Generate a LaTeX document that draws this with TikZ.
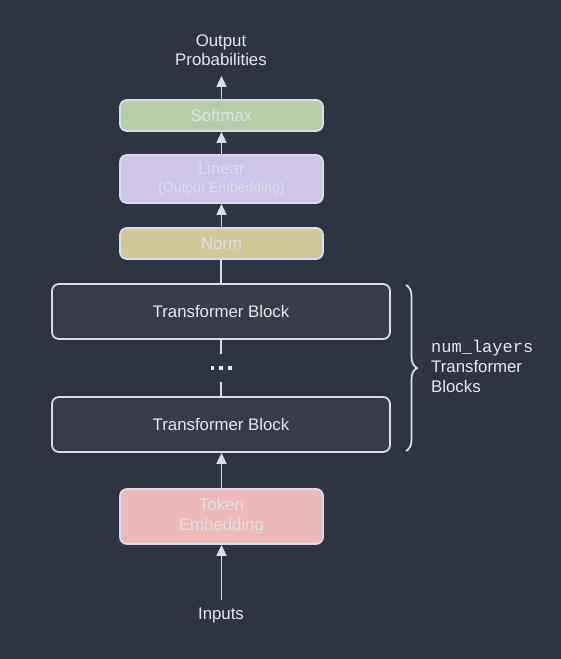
\documentclass[tikz,border=0pt]{standalone}
\usepackage{fontspec}
\setmainfont{Liberation Sans}
\newfontfamily\monofont{Liberation Mono}
\usetikzlibrary{arrows.meta,decorations.pathreplacing}
\definecolor{bg}{HTML}{2E3440}
\definecolor{edge}{HTML}{D8DEE9}
\definecolor{txt}{HTML}{E5E9F0}
\definecolor{boxtxt}{HTML}{DCE1EA}
\definecolor{cgreen}{HTML}{B4CEA6}
\definecolor{cpurple}{HTML}{CDC4E8}
\definecolor{cyellow}{HTML}{D4C697}
\definecolor{cred}{HTML}{EBB9B9}
\definecolor{cblock}{HTML}{373C48}
\begin{document}
\begin{tikzpicture}[x=1pt,y=-1pt,
  base/.style={draw=edge, line width=1.8pt, rounded corners=7pt, align=center,
    font=\fontsize{16.8}{20}\selectfont, inner sep=0pt},
  smallbox/.style={base, minimum width=203pt, text=boxtxt},
  blockbox/.style={base, minimum width=338pt, minimum height=55pt, fill=cblock, text=txt},
  plain/.style={text=txt, font=\fontsize{16.8}{19.5}\selectfont, align=center},
  conn/.style={draw=edge, line width=1.8pt},
  arr/.style={conn, -{Triangle[width=10pt,length=11pt]}},
  dotsq/.style={fill=txt}
]
\useasboundingbox (0,0) rectangle (560,659);
\fill[bg] (-3,-3) rectangle (563,662);

\node[plain, inner xsep=4pt, inner ysep=10pt] (out) at (221,50) {Output\\Probabilities};
\node[smallbox, minimum height=31pt, fill=cgreen] (softmax) at (221.5,115.5) {Softmax};
\node[smallbox, minimum height=48pt, fill=cpurple] (linear) at (221.5,179)
  {Linear\\[-2pt]{\fontsize{14}{16}\selectfont (Output Embedding)}};
\node[smallbox, minimum height=31pt, fill=cyellow] (norm) at (221.5,243.5) {Norm};
\node[blockbox] (tb1) at (221,311.5) {Transformer Block};
\node[minimum height=28pt, minimum width=30pt, inner sep=0pt] (dots) at (221,368) {};
\fill[dotsq] (dots.center) ++(-10.5,-1.6) rectangle ++(3.2,3.2);
\fill[dotsq] (dots.center) ++(-1.6,-1.6) rectangle ++(3.2,3.2);
\fill[dotsq] (dots.center) ++(7.3,-1.6) rectangle ++(3.2,3.2);
\node[blockbox] (tb2) at (221,424.5) {Transformer Block};
\node[smallbox, minimum height=55pt, fill=cred] (token) at (221.5,516.5) {Token\\Embedding};
\node[plain, inner sep=7pt] (in) at (221,615) {Inputs};

\draw[arr] (in.north -| token.south) -- (token.south);
\draw[arr] (token.north) -- (tb2.south -| token.north);
\draw[conn] (tb2.north) -- (dots.south);
\draw[conn] (dots.north) -- (tb1.south);
\draw[conn] (tb1.north) -- (norm.south -| tb1.north);
\draw[arr] (norm.north) -- (linear.south);
\draw[arr] (linear.north) -- (softmax.south);
\draw[arr] (softmax.north) -- (out.south -| softmax.north);

\draw[edge, line width=1.8pt, decorate, decoration={brace, amplitude=11pt}]
  (406,285) coordinate (bt) -- (406,451) coordinate (bb);
\node[text=txt, anchor=west, align=left, font=\fontsize{16.8}{20}\selectfont, inner sep=0pt] (lbl) at (431,366)
  {{\monofont\fontsize{17}{20}\selectfont num\_layers}\\Transformer\\Blocks};
\end{tikzpicture}
\end{document}
